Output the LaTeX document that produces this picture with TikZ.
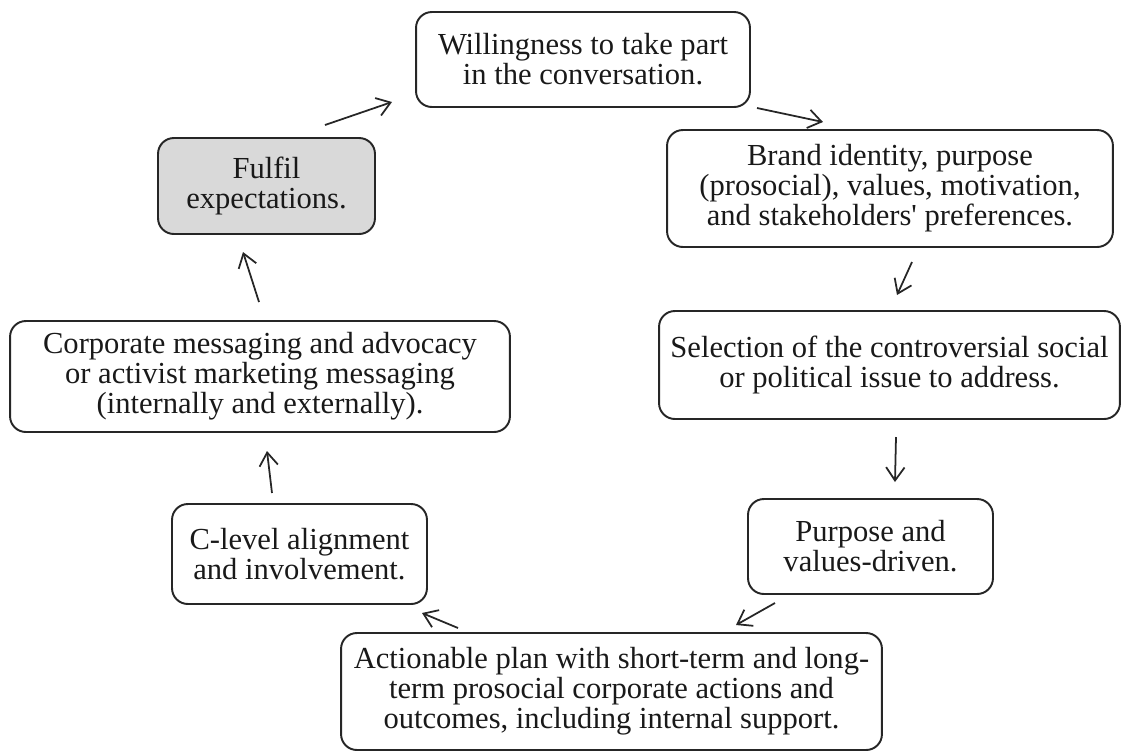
\documentclass[tikz,border=0pt]{standalone}
\usepackage{fontspec}
\setmainfont{Liberation Serif}
\usetikzlibrary{arrows.meta}
\begin{document}
\begin{tikzpicture}[x=0.02cm,y=-0.02cm,
  stepbox/.style={draw=black!85, line width=1.1pt, rounded corners=9pt,
    align=center, inner sep=0pt, text=black!90,
    font=\fontsize{17.4}{17}\selectfont},
  shaded/.style={stepbox, fill=black!15},
  flow/.style={-{Straight Barb[length=7.5pt,width=10.5pt]}, line width=1pt, black!85}]
\useasboundingbox (0,0) rectangle (1127,752);

% the eight stages of the cycle
\node[stepbox, minimum width=6.68cm, minimum height=1.90cm] (will) at (583,59.5)
  {Willingness to take part\\in the conversation.};
\node[stepbox, minimum width=8.92cm, minimum height=2.34cm] (brand) at (890,188.5)
  {Brand identity, purpose\\(prosocial), values, motivation,\\and stakeholders\textquotesingle\ preferences.};
\node[stepbox, minimum width=9.22cm, minimum height=2.16cm] (select) at (889.5,365)
  {Selection of the controversial social\\or political issue to address.};
\node[stepbox, minimum width=4.90cm, minimum height=1.90cm] (purpose) at (870.5,546.5)
  {Purpose and\\values-driven.};
\node[stepbox, minimum width=10.82cm, minimum height=2.34cm] (plan) at (611.5,691.5)
  {Actionable plan with short-term and long-\\term prosocial corporate actions and\\outcomes, including internal support.};
\node[stepbox, minimum width=5.10cm, minimum height=2.00cm] (clevel) at (299.5,554)
  {C-level alignment\\and involvement.};
\node[stepbox, minimum width=10.00cm, minimum height=2.22cm] (message) at (260,376.5)
  {Corporate messaging and advocacy\\or activist marketing messaging\\(internally and externally).};
\node[shaded, minimum width=4.34cm, minimum height=1.92cm] (fulfil) at (266.5,186)
  {Fulfil\\expectations.};

% free-standing arrow ends between the stages
\coordinate (a1s) at (325,125); \coordinate (a1e) at (392,102);
\coordinate (a2s) at (757,108); \coordinate (a2e) at (823,122);
\coordinate (a3s) at (912,262); \coordinate (a3e) at (897,295);
\coordinate (a4s) at (896,437); \coordinate (a4e) at (895,482);
\coordinate (a5s) at (775,603); \coordinate (a5e) at (736,625);
\coordinate (a6s) at (458,628); \coordinate (a6e) at (422,613);
\coordinate (a7s) at (272,493); \coordinate (a7e) at (267,451);
\coordinate (a8s) at (259,302); \coordinate (a8e) at (243,252);

\draw[flow] (a1s) -- (a1e);
\draw[flow] (a2s) -- (a2e);
\draw[flow] (a3s) -- (a3e);
\draw[flow] (a4s) -- (a4e);
\draw[flow] (a5s) -- (a5e);
\draw[flow] (a6s) -- (a6e);
\draw[flow] (a7s) -- (a7e);
\draw[flow] (a8s) -- (a8e);
\end{tikzpicture}
\end{document}
